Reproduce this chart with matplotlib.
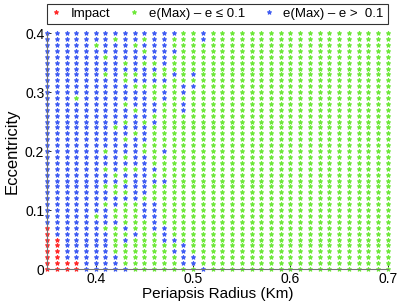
import numpy as np
import matplotlib
matplotlib.use("Agg")
import matplotlib.pyplot as plt

plt.rcParams["font.family"] = ["Liberation Sans", "DejaVu Sans"]

radius = np.round(np.arange(0.35, 0.705, 0.01), 2)
eccentricity = np.round(np.arange(0.0, 0.405, 0.01), 2)

# one string per radius column, eccentricity rows from 0 upwards (groups of 10)
# r = impact, g = e(Max) - e <= 0.1, b = e(Max) - e > 0.1
ALL_GREEN = "gggggggggg gggggggggg gggggggggg gggggggggg g"
outcome = [
    "rrrrrrrrbb bbbbbbbbbb bbbbbbbbbb bbbbbbbbbb b",  # 0.35
    "rrrrrrbbbb bbbbbbbbbb bbbbbbbbbb bbbbbbbbbb b",  # 0.36
    "rrbbbbbbbb bbbbbbbbbb bbbbbbbbbb bbbbbbbbbb b",  # 0.37
    "rrbbbbbbbb bbbbbbbbbb bbbbbbbbbg bbbbbbbbbb b",  # 0.38
    "bbbbbbbbbb bbbbbbbbbb bbbbbbbbbb bbbbbbbbbb b",  # 0.39
    "bbbbbbbbbg bbbbbbbbbb bbbbbbbbbb bbbbbbbbgb b",  # 0.40
    "bbbbbbbgbb bgbbgbbgbb gbbbbbbbbb bbbgbbgbbb b",  # 0.41
    "bbbgggggbg gbbggbgbbb bbbbgbbbbb bbbbbbbbbg b",  # 0.42
    "bggggbgbgg ggbgbgbgbg bbgbbgbbgb bbggbgbbbb b",  # 0.43
    "ggggggbggg ggbbbbbgbb bbbgbbbgbb bgbgbbbbgb b",  # 0.44
    "gggggggggb bbgbbbbbbb ggbbbgbbbb bgbbbgbgbg b",  # 0.45
    "gggggggbbb bbgggbgbgg gggggbgbbg ggbgbgbbbb b",  # 0.46
    "gggggbbbgg gggggbgggg bggggggggb bgbggbbbbb b",  # 0.47
    "gggbgbgggg gggggggggg gggggggggg gggbgggbgg b",  # 0.48
    "gbbbbggggg gggggggggg gggggggbbg bbgggggggg g",  # 0.49
    "gbbggggggg gggggggggg gggggggggg gbgbgggggg g",  # 0.50
    "bggggggggg gggggggggg gggggggggg gggggggggb b",  # 0.51
] + [ALL_GREEN] * 19                                  # 0.52 - 0.70

labels = {
    "r": "Impact",
    "g": "e(Max) \u2013 e \u2264 0.1",
    "b": "e(Max) \u2013 e >  0.1",
}
colors = {"r": "#ff2a2a", "g": "#6ee83a", "b": "#3f5cf2"}

xticks = [0.4, 0.5, 0.6, 0.7]
yticks = [0, 0.1, 0.2, 0.3, 0.4]
ytick_labels = ["0", "0.1", "0.2", "0.3", "0.4"]

grid = np.array([list(s.replace(" ", "")) for s in outcome])
xx, yy = np.meshgrid(radius, eccentricity, indexing="ij")

fig = plt.figure(figsize=(3.99, 3.04), dpi=100)
ax = fig.add_axes([0.118, 0.115, 0.854, 0.776])

for key in ["r", "g", "b"]:
    mask = grid == key
    ax.plot(xx[mask], yy[mask], "*", ls="none", color=colors[key],
            ms=3.3, mew=0.7, label=labels[key], clip_on=False)

ax.set_xlim(0.35, 0.70)
ax.set_ylim(0, 0.4)
ax.set_xticks(xticks)
ax.set_xticklabels([f"{t:.1f}" for t in xticks])
ax.set_yticks(yticks)
ax.set_yticklabels(ytick_labels)
ax.tick_params(direction="in", length=3, width=0.6, labelsize=10, pad=2)
for side in ["top", "right"]:
    ax.spines[side].set_visible(False)
for side in ["left", "bottom"]:
    ax.spines[side].set_color("0.45")
    ax.spines[side].set_linewidth(0.8)

ax.set_xlabel("Periapsis Radius (Km)", fontsize=11, labelpad=1)
ax.set_ylabel("Eccentricity", fontsize=12, labelpad=4)

leg = ax.legend(loc="lower center", bbox_to_anchor=(0.5, 1.04), ncol=3,
                frameon=True, fancybox=False, edgecolor="black",
                fontsize=9.5, handlelength=0.8, handletextpad=0.7,
                columnspacing=1.4, borderpad=0.3, markerscale=1.0,
                borderaxespad=0)
leg.get_frame().set_linewidth(0.8)

fig.savefig("out.png", dpi=100)
